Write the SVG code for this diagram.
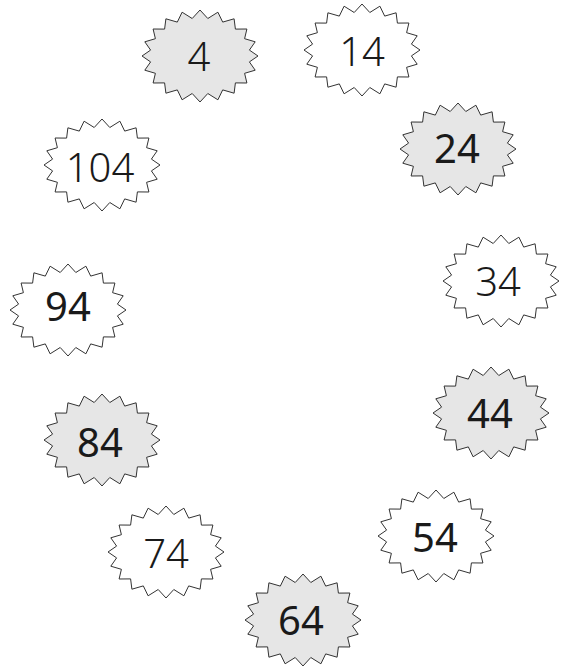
<svg xmlns="http://www.w3.org/2000/svg" xmlns:xlink="http://www.w3.org/1999/xlink" width="562" height="666" viewBox="0 0 562 666">
<style>
.b{stroke:#333333;stroke-width:1;stroke-linejoin:miter}
.g{fill:#e6e6e6}
.w{fill:#ffffff}
.t{font-family:"Noto Sans","Liberation Sans",sans-serif;font-size:40px;fill:#1a1a1a;text-anchor:middle}
.l{font-weight:300}
.m{font-weight:400}
</style>
<defs>
<polygon id="burst" points="58,0 49.4,5.9 55.2,14.2 44.6,17.3 46.9,27 35.4,26.9 34.1,37.2 22.7,33.9 17.9,43.8 7.8,37.5 0,46 -7.8,37.5 -17.9,43.8 -22.7,33.9 -34.1,37.2 -35.4,26.9 -46.9,27 -44.6,17.3 -55.2,14.2 -49.4,5.9 -58,0 -49.4,-5.9 -55.2,-14.2 -44.6,-17.3 -46.9,-27 -35.4,-26.9 -34.1,-37.2 -22.7,-33.9 -17.9,-43.8 -7.8,-37.5 0,-46 7.8,-37.5 17.9,-43.8 22.7,-33.9 34.1,-37.2 35.4,-26.9 46.9,-27 44.6,-17.3 55.2,-14.2 49.4,-5.9"/>
</defs>
<rect width="562" height="666" fill="#ffffff"/>
<g id="connectors"></g>
<g id="n4"><use xlink:href="#burst" href="#burst" class="b g" x="200" y="56"/><text class="t l" x="199" y="71">4</text></g>
<g id="n14"><use xlink:href="#burst" href="#burst" class="b w" x="362" y="50"/><text class="t l" x="362" y="66">14</text></g>
<g id="n24"><use xlink:href="#burst" href="#burst" class="b g" x="458" y="149"/><text class="t m" x="457" y="163">24</text></g>
<g id="n34"><use xlink:href="#burst" href="#burst" class="b w" x="501" y="281"/><text class="t l" x="498" y="296">34</text></g>
<g id="n44"><use xlink:href="#burst" href="#burst" class="b g" x="491" y="413"/><text class="t m" x="490" y="428">44</text></g>
<g id="n54"><use xlink:href="#burst" href="#burst" class="b w" x="436" y="536"/><text class="t m" x="435" y="552">54</text></g>
<g id="n64"><use xlink:href="#burst" href="#burst" class="b g" x="303" y="620"/><text class="t m" x="301" y="635">64</text></g>
<g id="n74"><use xlink:href="#burst" href="#burst" class="b w" x="166" y="552"/><text class="t l" x="166" y="568">74</text></g>
<g id="n84"><use xlink:href="#burst" href="#burst" class="b g" x="102" y="440"/><text class="t m" x="100" y="457">84</text></g>
<g id="n94"><use xlink:href="#burst" href="#burst" class="b w" x="68" y="310"/><text class="t m" x="68" y="321">94</text></g>
<g id="n104"><use xlink:href="#burst" href="#burst" class="b w" x="102" y="165"/><text class="t l" x="100" y="182">104</text></g>
</svg>
